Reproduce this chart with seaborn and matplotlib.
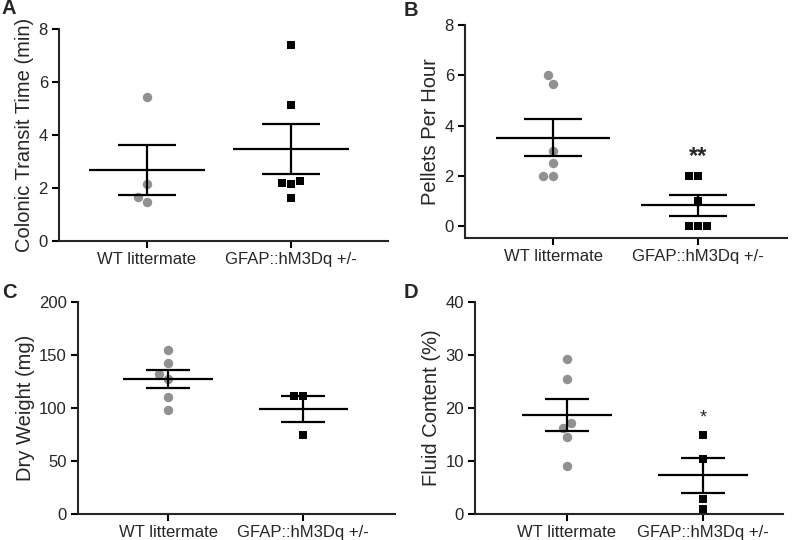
import numpy as np
import pandas as pd
import matplotlib
matplotlib.use("Agg")
import matplotlib.pyplot as plt
import seaborn as sns

# group names and the per-animal values
groups = ["WT littermate", "GFAP::hM3Dq +/-"]

transit_wt = [5.45, 2.15, 1.48, 1.65]
transit_tg = [7.40, 5.15, 2.20, 2.15, 2.25, 1.62]

pellets_wt = [6.0, 5.67, 3.0, 2.5, 2.0, 2.0]
pellets_tg = [2, 2, 1, 0, 0, 0]

weight_wt = [155, 142.5, 132, 127.5, 110.5, 98.5]
weight_tg = [111.5, 111.5, 75]

fluid_wt = [29.2, 25.4, 17.2, 16.2, 14.6, 9.1]
fluid_tg = [15.0, 10.4, 2.8, 1.0]

ylabels = ["Colonic Transit Time (min)", "Pellets Per Hour", "Dry Weight (mg)", "Fluid Content (%)"]
panel_letters = ["A", "B", "C", "D"]
yticks_list = [[0, 2, 4, 6, 8], [0, 2, 4, 6, 8], [0, 50, 100, 150, 200], [0, 10, 20, 30, 40]]
stars = {1: ("**", 2.78), 3: ("*", 18.2)}

sns.set_style("ticks")
plt.rcParams["font.family"] = ["Liberation Sans", "DejaVu Sans"]

W, H = 795, 540
fig = plt.figure(figsize=(W / 100, H / 100), dpi=100)

# axes boxes in pixels: left, right, top, bottom
boxes = [(59, 388, 29, 241), (465, 787, 25, 238), (78, 395, 302, 514), (475, 783, 302, 514)]
xlims = [(-0.611, 1.674), (-0.607, 1.614), (-0.667, 1.681), (-0.676, 1.588)]
ylims = [(0, 8), (-0.46, 8), (0, 200), (0, 40)]
bar_w = [(0.40, 0.20), (0.39, 0.20), (0.33, 0.165), (0.33, 0.165)]
letter_pos = [(1, 9), (404, 10), (2, 293), (404, 292)]

data = [(transit_wt, transit_tg), (pellets_wt, pellets_tg),
        (weight_wt, weight_tg), (fluid_wt, fluid_tg)]

for i, (wt, tg) in enumerate(data):
    l, r, t, b = boxes[i]
    ax = fig.add_axes([l / W, 1 - b / H, (r - l) / W, (b - t) / H])

    df = pd.DataFrame({
        "group": [groups[0]] * len(wt) + [groups[1]] * len(tg),
        "value": list(wt) + list(tg),
    })
    sns.swarmplot(data=df[df.group == groups[0]], x="group", y="value", order=groups,
                  color="#919191", marker="o", size=6.8, linewidth=0, ax=ax, zorder=2)
    sns.swarmplot(data=df[df.group == groups[1]], x="group", y="value", order=groups,
                  color="black", marker="s", size=6.4, linewidth=0, ax=ax, zorder=2)

    # mean +/- SEM
    mw, sw = bar_w[i]
    for j, vals in enumerate([wt, tg]):
        v = np.array(vals, dtype=float)
        m = v.mean()
        se = v.std(ddof=1) / np.sqrt(len(v))
        ax.hlines(m, j - mw, j + mw, color="black", lw=1.6, zorder=3)
        ax.hlines([m - se, m + se], j - sw, j + sw, color="black", lw=1.6, zorder=3)
        ax.vlines(j, m - se, m + se, color="black", lw=1.6, zorder=3)

    if i in stars:
        s, y = stars[i]
        if i == 1:
            ax.text(1, y, s, ha="center", va="center", fontsize=17, fontweight="bold")
        else:
            ax.text(1, y, s, ha="center", va="center", fontsize=13)

    ax.set_xlim(*xlims[i])
    ax.set_ylim(*ylims[i])
    ax.set_yticks(yticks_list[i])
    ax.set_xlabel("")
    ax.set_ylabel(ylabels[i], fontsize=14.5, labelpad=3)
    sns.despine(ax=ax)
    for sp in ["left", "bottom"]:
        ax.spines[sp].set_linewidth(1.5)
    ax.tick_params(axis="both", direction="out", length=5, width=1.5,
                   labelsize=12, pad=3, color="black")

    lx, ly = letter_pos[i]
    fig.text(lx / W, 1 - ly / H, panel_letters[i], fontsize=14.5, fontweight="bold",
             ha="left", va="center")

fig.savefig("out.png", dpi=100)
